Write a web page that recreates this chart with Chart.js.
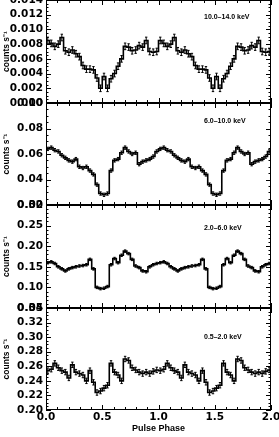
<!DOCTYPE html>
<html>
<head>
<meta charset="utf-8">
<script src="https://cdn.jsdelivr.net/npm/chart.js"></script>
<style>
  body { margin: 0; background: #fff; }
  #wrap { position: relative; width: 279px; height: 437px; overflow: hidden; }
  #wrap canvas { position: absolute; left: 0; }
</style>
</head>
<body>
<div id="wrap"></div>
<script>
// one pulse cycle, 32 phase bins; the profile is shown twice (phase 0-2)
var binsPerCycle = 32;
var rate_10_14 = [0.0085, 0.0081, 0.0077, 0.0080, 0.0089, 0.0071, 0.0069, 0.0072,
                  0.0067, 0.0063, 0.0051, 0.0046, 0.0046, 0.0045, 0.0034, 0.0020,
                  0.0036, 0.0020, 0.0033, 0.0040, 0.0050, 0.0060, 0.0077, 0.0076,
                  0.0071, 0.0072, 0.0078, 0.0076, 0.0085, 0.0070, 0.0069, 0.0070];
var rate_6_10 = [0.064, 0.065, 0.063, 0.062, 0.059, 0.057, 0.055, 0.054,
                 0.056, 0.050, 0.049, 0.050, 0.047, 0.044, 0.036, 0.029,
                 0.028, 0.029, 0.047, 0.055, 0.056, 0.061, 0.065, 0.062,
                 0.060, 0.061, 0.052, 0.054, 0.055, 0.056, 0.058, 0.062];
var rate_2_6 = [0.160, 0.162, 0.158, 0.150, 0.145, 0.140, 0.145, 0.148,
                0.150, 0.152, 0.153, 0.155, 0.168, 0.145, 0.100, 0.097,
                0.098, 0.102, 0.155, 0.170, 0.160, 0.178, 0.188, 0.182,
                0.168, 0.152, 0.148, 0.140, 0.138, 0.150, 0.155, 0.158];
var rate_05_2 = [0.254, 0.256, 0.264, 0.258, 0.254, 0.252, 0.244, 0.262,
                 0.252, 0.250, 0.248, 0.240, 0.254, 0.238, 0.224, 0.226,
                 0.230, 0.234, 0.264, 0.252, 0.248, 0.240, 0.270, 0.268,
                 0.258, 0.255, 0.252, 0.250, 0.252, 0.250, 0.253, 0.255];
// typical 1-sigma error per bin
var err_10_14 = 0.00045, err_6_10 = 0.0013, err_2_6 = 0.003, err_05_2 = 0.0037;
var phaseTicks = [0.0, 0.5, 1.0, 1.5, 2.0];

var panels = [
  { name: '10.0\u201314.0 keV', rate: rate_10_14, err: err_10_14, min: 0, max: 0.014, step: 0.002, minor: 4, digits: 3, top: 0, h: 103, ly: 17.5 },
  { name: '6.0\u201310.0 keV', rate: rate_6_10, err: err_6_10, min: 0.02, max: 0.10, step: 0.02, minor: 4, digits: 2, top: 103, h: 102, ly: 18.5 },
  { name: '2.0\u20136.0 keV', rate: rate_2_6, err: err_2_6, min: 0.05, max: 0.30, step: 0.05, minor: 5, digits: 2, top: 205, h: 103, ly: 23 },
  { name: '0.5\u20132.0 keV', rate: rate_05_2, err: err_05_2, min: 0.20, max: 0.34, step: 0.02, minor: 4, digits: 2, top: 308, h: 102, ly: 29.5 }
];

var tickFont = { family: 'DejaVu Sans', weight: 'bold', size: 10.5 };

// frame with inward ticks, error bars and band label
var framePlugin = {
  id: 'frame',
  afterDatasetsDraw: function(chart) {
    var p = chart.options.plugins.frame;
    var a = chart.chartArea, ctx = chart.ctx;
    var xs = chart.scales.x, ys = chart.scales.y;
    ctx.save();
    ctx.strokeStyle = '#000';
    // error bars
    ctx.lineWidth = 1;
    ctx.beginPath();
    p.full.forEach(function(v, i) {
      var px = xs.getPixelForValue((i + 0.5) / binsPerCycle);
      var y1 = ys.getPixelForValue(v - p.err), y2 = ys.getPixelForValue(v + p.err);
      ctx.moveTo(px, y1); ctx.lineTo(px, y2);
      ctx.moveTo(px - 1.2, y1); ctx.lineTo(px + 1.2, y1);
      ctx.moveTo(px - 1.2, y2); ctx.lineTo(px + 1.2, y2);
    });
    ctx.stroke();
    // box
    ctx.lineWidth = 1;
    ctx.strokeRect(a.left + 0.5, a.top + 0.5, a.right - a.left - 1, a.bottom - a.top - 1);
    ctx.beginPath();
    // x ticks, top and bottom
    for (var k = 0; k <= 20; k++) {
      var v = k / 10;
      var px = Math.round(xs.getPixelForValue(v)) + 0.5;
      var len = (k % 5 === 0) ? 5 : 3;
      ctx.moveTo(px, a.bottom); ctx.lineTo(px, a.bottom - len);
      ctx.moveTo(px, a.top); ctx.lineTo(px, a.top + len);
    }
    // y ticks, left and right
    var n = Math.round((p.max - p.min) / p.step) * p.minor;
    for (var j = 0; j <= n; j++) {
      var yv = p.min + j * p.step / p.minor;
      var py = Math.round(ys.getPixelForValue(yv)) + 0.5;
      var l2 = (j % p.minor === 0) ? 5 : 2.5;
      ctx.moveTo(a.left, py); ctx.lineTo(a.left + l2, py);
      ctx.moveTo(a.right, py); ctx.lineTo(a.right - l2, py);
    }
    ctx.stroke();
    ctx.fillStyle = '#000';
    ctx.font = 'bold 7px "Liberation Sans"';
    ctx.textAlign = 'left';
    ctx.textBaseline = 'middle';
    ctx.fillText(p.name, 204, a.top + p.ly);
    ctx.restore();
  }
};

var wrap = document.getElementById('wrap');
panels.forEach(function(p, idx) {
  var last = idx === panels.length - 1;
  var full = p.rate.concat(p.rate);
  var pts = full.map(function(v, i) { return { x: i / binsPerCycle, y: v }; });
  pts.push({ x: full.length / binsPerCycle, y: full[full.length - 1] });

  var cv = document.createElement('canvas');
  var cTop = p.top - 10;
  var cH = last ? (437 - cTop) : (p.h + 20);
  cv.width = 279; cv.height = cH;
  cv.style.top = cTop + 'px';
  wrap.appendChild(cv);

  new Chart(cv.getContext('2d'), {
    type: 'line',
    data: {
      datasets: [{
        data: pts,
        stepped: true,
        borderColor: '#000',
        borderWidth: 1.6,
        pointRadius: 0,
        fill: false
      }]
    },
    options: {
      responsive: false,
      animation: false,
      layout: { padding: { top: 10, bottom: last ? 0 : 10, left: 0, right: 8 } },
      plugins: {
        legend: { display: false },
        tooltip: { enabled: false },
        frame: { full: full, err: p.err, min: p.min, max: p.max, step: p.step, minor: p.minor, name: p.name, ly: p.ly }
      },
      scales: {
        x: {
          type: 'linear', min: 0, max: 2,
          display: last,
          grid: { display: false, drawTicks: false },
          border: { display: false },
          afterBuildTicks: function(s) { s.ticks = phaseTicks.map(function(v) { return { value: v }; }); },
          ticks: {
            autoSkip: false, maxRotation: 0, padding: 1, color: '#000', font: tickFont,
            callback: function(v) { return Number(v).toFixed(1); }
          },
          title: {
            display: true, text: 'Pulse Phase', color: '#000',
            font: { family: 'Liberation Sans', weight: 'bold', size: 9 },
            padding: { top: 0, bottom: 2.6 }
          },
          afterFit: function(s) { if (last) { s.height = 27; } s.paddingLeft = 0; s.paddingRight = 0; }
        },
        y: {
          min: p.min, max: p.max,
          grid: { display: false, drawTicks: false },
          border: { display: false },
          ticks: {
            stepSize: p.step, autoSkip: false, padding: 3, color: '#000', font: tickFont,
            callback: function(v) { return Number(v).toFixed(p.digits); }
          },
          title: {
            display: true, text: 'counts s\u207B\u00B9', color: '#000',
            font: { family: 'Liberation Sans', weight: 'bold', size: 8.5 },
            padding: { top: 1.5, bottom: 0 }
          },
          afterFit: function(s) { s.width = 46; s.paddingTop = 0; s.paddingBottom = 0; }
        }
      }
    },
    plugins: [framePlugin]
  });
});
</script>
</body>
</html>
